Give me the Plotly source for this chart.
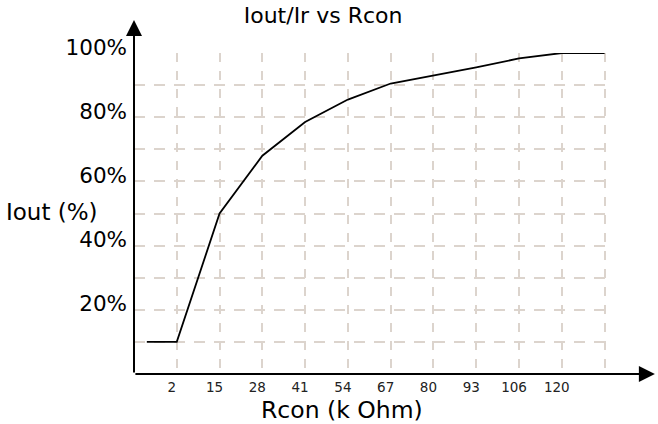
import plotly.graph_objects as go

# ---- data ----
x_tick_labels = ["2", "15", "28", "41", "54", "67", "80", "93", "106", "120", ""]
x_tick_pos = [1, 2, 3, 4, 5, 6, 7, 8, 9, 10, 11]
curve_x = [0.3, 1, 2, 3, 4, 5, 6, 7, 8, 9, 10, 11]
iout_pct = [10, 10, 50, 68, 78.5, 85.5, 90.5, 93, 95.5, 98.3, 100, 100]
y_tick_vals = [10, 20, 30, 40, 50, 60, 70, 80, 90, 100]
y_tick_text = ["", "20%", "", "40%", "", "60%", "", "80%", "", "100%"]

FONT = "DejaVu Sans"
GRID = "#dcd4cd"

fig = go.Figure()
fig.add_trace(go.Scatter(
    x=curve_x, y=iout_pct, mode="lines",
    line=dict(color="black", width=1.8),
    showlegend=False, hoverinfo="skip",
))

fig.update_layout(
    width=658, height=424, autosize=False,
    margin=dict(l=134, r=47, t=53, b=50),
    paper_bgcolor="white", plot_bgcolor="white",
    font=dict(family=FONT, color="black"),
    title=dict(text="Iout/Ir vs Rcon", x=0.491, xanchor="center",
               y=0.965, yanchor="middle", font=dict(size=22, family=FONT)),
    xaxis=dict(
        range=[0, 11.15], tickmode="array", tickvals=x_tick_pos, ticktext=x_tick_labels,
        showgrid=True, gridcolor=GRID, griddash="9px,9px", gridwidth=1.5,
        showline=False, zeroline=False, ticks="",
        tickfont=dict(size=13.5, color="#222222", family=FONT),
        ticklabelshift=-5, ticklabelstandoff=3,
    ),
    yaxis=dict(
        range=[0, 100], tickmode="array", tickvals=y_tick_vals, ticktext=y_tick_text,
        showgrid=True, gridcolor=GRID, griddash="11px,9px", gridwidth=1.5,
        showline=False, zeroline=False, ticks="",
        tickfont=dict(size=21.5, color="black", family=FONT),
        ticklabelshift=-6, ticklabelstandoff=6,
    ),
)

# axis arrows
fig.add_annotation(x=1.092, y=0, xref="paper", yref="paper", axref="pixel", ayref="pixel",
                   ax=-521, ay=0, showarrow=True, arrowhead=2, arrowsize=1.6,
                   arrowwidth=2, arrowcolor="black", text="")
fig.add_annotation(x=0, y=1.103, xref="paper", yref="paper", axref="pixel", ayref="pixel",
                   ax=0, ay=354, showarrow=True, arrowhead=2, arrowsize=1.6,
                   arrowwidth=2, arrowcolor="black", text="")

# axis titles
fig.add_annotation(text="Iout (%)", x=-0.2725, y=0.505, xref="paper", yref="paper",
                   xanchor="left", yanchor="middle", showarrow=False,
                   font=dict(size=23, family=FONT, color="black"))
fig.add_annotation(text="Rcon (k Ohm)", x=0.436, y=-0.112, xref="paper", yref="paper",
                   xanchor="center", yanchor="middle", showarrow=False,
                   font=dict(size=23.5, family=FONT, color="black"))

fig.write_html("out.html", config={"displayModeBar": False},
               post_script="document.body.style.margin='0';")
